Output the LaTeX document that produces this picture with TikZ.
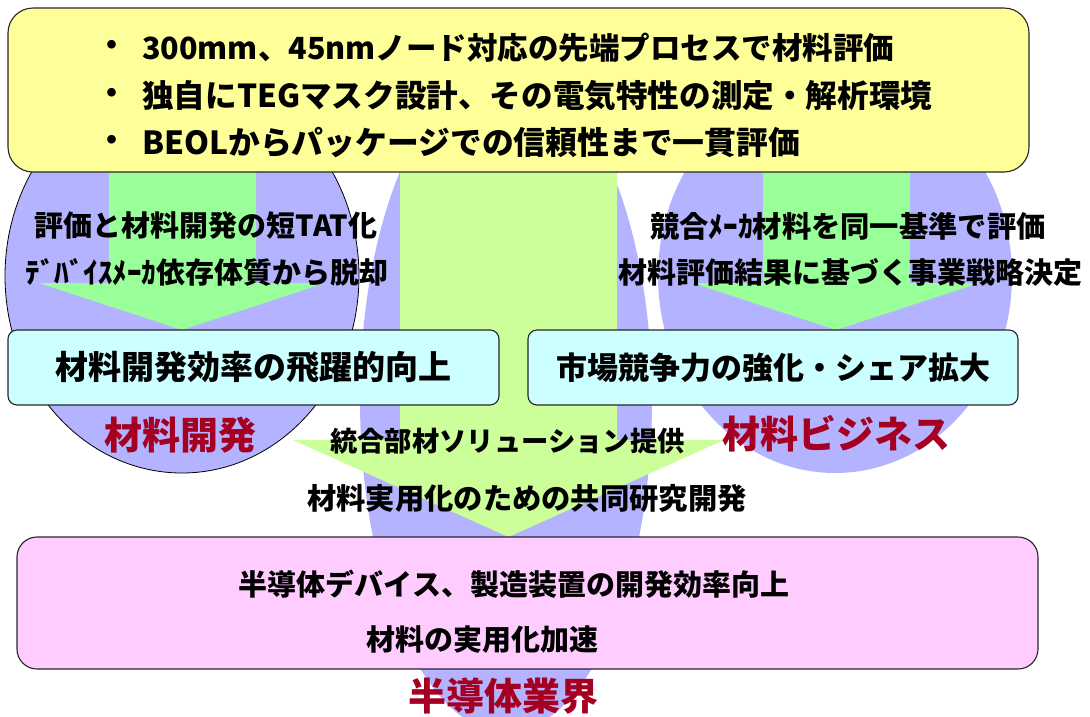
\documentclass[tikz,border=0pt]{standalone}
\usepackage{fontspec}
\setmainfont{Noto Sans CJK JP}
\definecolor{ylw}{HTML}{FFFF99}
\definecolor{cyn}{HTML}{CCFFFF}
\definecolor{pnk}{HTML}{FFCCFF}
\definecolor{purp}{HTML}{B3B3FF}
\definecolor{grn}{HTML}{99FF99}
\definecolor{lgrn}{HTML}{CCFF99}
\definecolor{lblred}{HTML}{A50021}
\newcommand{\fs}[1]{\fontsize{#1}{#1}\selectfont\bfseries}
\begin{document}
\begin{tikzpicture}[x=1pt,y=-1pt,
  boxline/.style={draw=black!85, line width=1.1pt},
  txt/.style={inner sep=0pt, text=black},
  lbl/.style={inner sep=0pt, text=lblred, font=\fs{38}},
  area/.style={fill=purp, draw=none}]
\useasboundingbox (0,0) rectangle (1090,716);
% spheres of activity
\fill[area] (506,400) ellipse [x radius=146pt, y radius=332pt];
\fill[area] (835,276) ellipse [x radius=177pt, y radius=197pt];
\filldraw[area, draw=black, line width=0.8pt] (182,276) ellipse [x radius=177pt, y radius=197pt];
% block arrows
\fill[grn] (109,150) -- (256,150) -- (256,283) -- (325,283) -- (182,330) -- (39,283) -- (109,283) -- cycle;
\fill[grn] (763,150) -- (910,150) -- (910,283) -- (979,283) -- (836,330) -- (693,283) -- (763,283) -- cycle;
\fill[lgrn] (400,150) -- (617,150) -- (617,440) -- (724,440) -- (508.5,537) -- (293,440) -- (400,440) -- cycle;
% boxes
\node[boxline, fill=ylw, rounded corners=25pt, minimum width=1021pt, minimum height=164pt, inner sep=0pt] (top) at (518.5,90) {};
\node[boxline, fill=cyn, rounded corners=9pt, minimum width=491pt, minimum height=75pt, inner sep=0pt, font=\fs{33}] (dev) at (253.5,367.5) {材料開発効率の飛躍的向上};
\node[boxline, fill=cyn, rounded corners=9pt, minimum width=490pt, minimum height=75pt, inner sep=0pt, font=\fs{31}] (biz) at (773,367.5) {市場競争力の強化・シェア拡大};
\node[boxline, fill=pnk, rounded corners=20pt, minimum width=1021pt, minimum height=132pt, inner sep=0pt] (ind) at (527.5,603) {};
% top box text
\node[txt, font=\fs{31}] (b1) at (112,48) {・};
\node[txt, font=\fs{31}] (b2) at (112,96) {・};
\node[txt, font=\fs{31}] (b3) at (112,143) {・};
\node[txt, font=\fs{30.5}, anchor=west] (t1) at (142,48) {300mm、45nmノード対応の先端プロセスで材料評価};
\node[txt, font=\fs{31.6}, anchor=west] (t2) at (142,96) {独自にTEGマスク設計、その電気特性の測定・解析環境};
\node[txt, font=\fs{31.8}, anchor=west] (t3) at (142,143) {BEOLからパッケージでの信頼性まで一貫評価};
% circle texts
\node[txt, font=\fs{29}] (l1) at (206,226) {評価と材料開発の短TAT化};
\node[txt, font=\fs{29}] (l2) at (207,272) {ﾃﾞﾊﾞｲｽﾒｰｶ依存体質から脱却};
\node[txt, font=\fs{29.3}] (r1) at (848,226) {競合ﾒｰｶ材料を同一基準で評価};
\node[txt, font=\fs{29}] (r2) at (850,272) {材料評価結果に基づく事業戦略決定};
\node[txt, font=\fs{27.3}] (m1) at (507.5,441) {統合部材ソリューション提供};
\node[txt, font=\fs{29.3}] (m2) at (527,498) {材料実用化のための共同研究開発};
\node[txt, font=\fs{29}] (p1) at (514,584) {半導体デバイス、製造装置の開発効率向上};
\node[txt, font=\fs{29}] (p2) at (482,640) {材料の実用化加速};
% labels
\node[lbl] (L1) at (180,435) {材料開発};
\node[lbl] (L2) at (836,434) {材料ビジネス};
\node[lbl] (L3) at (503,696) {半導体業界};
\end{tikzpicture}
\end{document}
